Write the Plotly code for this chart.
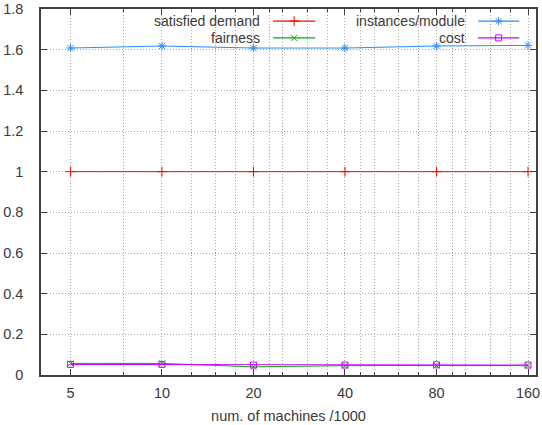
import math
import plotly.graph_objects as go

# ---- data ----
machines = [5, 10, 20, 40, 80, 160]
tick_labels = ["5", "10", "20", "40", "80", "160"]
satisfied_demand = [1.0, 1.0, 1.0, 1.0, 1.0, 1.0]
fairness = [0.057, 0.057, 0.040, 0.046, 0.047, 0.046]
instances_module = [1.608, 1.618, 1.608, 1.608, 1.618, 1.621]
cost = [0.052, 0.052, 0.049, 0.049, 0.050, 0.049]
minor_x = [7.5, 12.5, 15, 17.5, 22.5, 25, 30, 35, 45, 50, 60, 70, 90, 100, 120, 140]
y_ticks = [0, 0.2, 0.4, 0.6, 0.8, 1.0, 1.2, 1.4, 1.6, 1.8]
y_labels = ["0", "0.2", "0.4", "0.6", "0.8", "1", "1.2", "1.4", "1.6", "1.8"]

series = [
    ("satisfied demand", satisfied_demand, "#ff0000", "cross-thin-open", 7),
    ("fairness", fairness, "#00b000", "x-thin-open", 6),
    ("instances/module", instances_module, "#2a8cff", "asterisk-open", 7),
    ("cost", cost, "#cc00ff", "square-open", 6),
]

FONT = "Liberation Sans, Arial, sans-serif"
TXT = "#3a3a3a"
AX = "#404040"
GRID = "#a8a8a8"
GDASH = "1px,2px"

fig = go.Figure()
for name, vals, col, sym, sz in series:
    fig.add_trace(go.Scatter(
        x=machines, y=vals, name=name, mode="lines+markers",
        line=dict(color=col, width=1),
        marker=dict(symbol=sym, size=sz, color=col, line=dict(color=col, width=1)),
        showlegend=False, cliponaxis=False,
    ))

# legend (gnuplot style: right-aligned text, sample to the right)
leg_rows = [0.967, 0.921]
leg_cols = [(0.446, 0.469, 0.554), (0.861, 0.883, 0.966)]
leg_pos = [(0, 0), (0, 1), (1, 0), (1, 1)]
for (name, vals, col, sym, sz), (c, r) in zip(series, leg_pos):
    tx, x0, x1 = leg_cols[c]
    yy = leg_rows[r]
    fig.add_annotation(x=tx, y=yy, xref="x2", yref="y2", text=name, showarrow=False,
                       xanchor="right", yanchor="middle",
                       font=dict(family=FONT, size=14, color=TXT))
    fig.add_trace(go.Scatter(
        x=[x0, x1], y=[yy, yy], xaxis="x2", yaxis="y2", mode="lines",
        line=dict(color=col, width=1.2), showlegend=False, hoverinfo="skip"))
    fig.add_trace(go.Scatter(
        x=[(x0 + x1) / 2], y=[yy], xaxis="x2", yaxis="y2", mode="markers",
        marker=dict(symbol=sym, size=sz, color=col, line=dict(color=col, width=1)),
        showlegend=False, hoverinfo="skip"))

fig.update_layout(
    width=542, height=425,
    margin=dict(l=41, r=6, t=9, b=50, autoexpand=False),
    paper_bgcolor="white", plot_bgcolor="white",
    font=dict(family=FONT, size=14.5, color=TXT),
    xaxis=dict(
        type="log", range=[math.log10(4), math.log10(170)],
        tickmode="array", tickvals=machines, ticktext=tick_labels,
        ticks="inside", ticklen=6, tickcolor=AX, tickwidth=1,
        showline=True, linecolor=AX, linewidth=1.5, mirror="allticks",
        showgrid=True, gridcolor=GRID, griddash=GDASH, gridwidth=1,
        zeroline=False, ticklabelstandoff=4, automargin=False,
        tickfont=dict(family=FONT, size=14.5, color=TXT),
        minor=dict(tickmode="array", tickvals=minor_x, ticks="inside", ticklen=3,
                   tickcolor=AX, showgrid=True, gridcolor=GRID, griddash=GDASH, gridwidth=1),
        title=dict(text="num. of machines /1000", font=dict(family=FONT, size=14.5, color=TXT), standoff=11),
    ),
    yaxis=dict(
        range=[0, 1.8], tickmode="array", tickvals=y_ticks, ticktext=y_labels,
        ticks="inside", ticklen=6, tickcolor=AX, tickwidth=1,
        showline=True, linecolor=AX, linewidth=1.5, mirror="allticks",
        showgrid=True, gridcolor=GRID, griddash=GDASH, gridwidth=1,
        zeroline=False, ticklabelstandoff=13, automargin=False,
        tickfont=dict(family=FONT, size=14.5, color=TXT),
    ),
    xaxis2=dict(overlaying="x", range=[0, 1], visible=False, fixedrange=True),
    yaxis2=dict(overlaying="y", range=[0, 1], visible=False, fixedrange=True),
)

fig.write_html("out.html", config={"displayModeBar": False},
               post_script="document.body.style.margin='0';document.body.style.overflow='hidden';")
